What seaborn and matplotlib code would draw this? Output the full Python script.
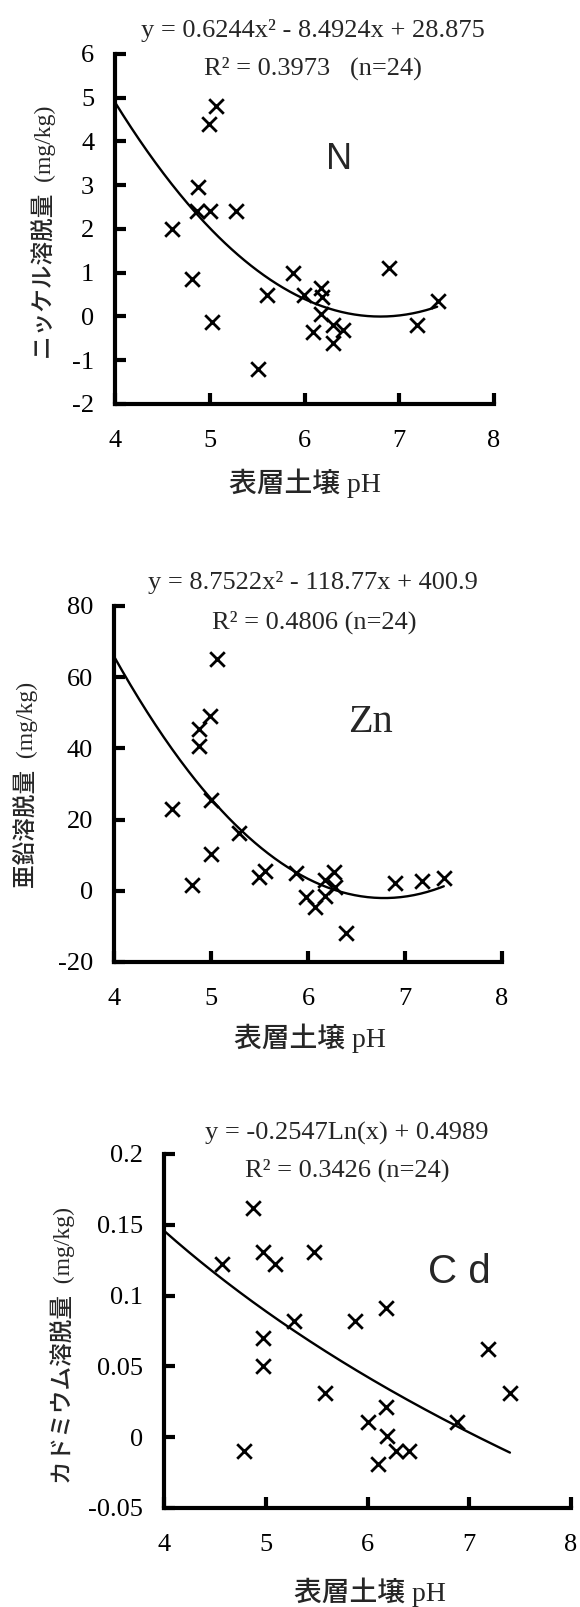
import numpy as np
import pandas as pd
import matplotlib
matplotlib.use('Agg')
import matplotlib.pyplot as plt
import seaborn as sns

# ---------------- data ----------------
ni_ph = [4.60, 4.81, 4.88, 4.87, 4.99, 5.07, 5.00, 5.02, 5.28, 5.51, 5.60, 5.88,
         5.99, 6.09, 6.17, 6.18, 6.17, 6.30, 6.30, 6.41, 6.89, 7.19, 7.41]
ni_val = [2.0, 0.85, 2.95, 2.4, 4.4, 4.8, 2.4, -0.12, 2.4, -1.2, 0.5, 1.0,
          0.5, -0.35, 0.65, 0.45, 0.05, -0.2, -0.6, -0.3, 1.1, -0.2, 0.35]
ni_coef = [0.6244, -8.4924, 28.875]

zn_ph = [4.60, 4.80, 4.88, 4.88, 4.99, 5.06, 5.00, 5.00, 5.29, 5.49, 5.56, 5.88,
         5.98, 6.07, 6.18, 6.18, 6.27, 6.28, 6.39, 6.90, 7.18, 7.40]
zn_val = [23.0, 1.5, 45.4, 40.6, 49.0, 65.0, 25.5, 10.2, 16.1, 4.0, 5.7, 5.0,
          -1.7, -4.5, 3.0, -1.4, 5.4, 1.0, -11.8, 2.1, 2.8, 3.6]
zn_coef = [8.7522, -118.77, 400.9]

cd_ph = [4.57, 4.79, 4.87, 4.97, 5.09, 4.97, 4.97, 5.28, 5.47, 5.58, 5.88, 6.00,
         6.10, 6.18, 6.18, 6.19, 6.28, 6.41, 6.88, 7.18, 7.40]
cd_val = [0.122, -0.010, 0.162, 0.131, 0.122, 0.070, 0.050, 0.082, 0.131, 0.031, 0.082, 0.011,
          -0.019, 0.091, 0.021, 0.001, -0.010, -0.010, 0.011, 0.062, 0.031]
cd_coef = [-0.2547, 0.4989]

x_ticks = [4, 5, 6, 7, 8]
x_ticklabels = ['4', '5', '6', '7', '8']
ni_yticks = [-2, -1, 0, 1, 2, 3, 4, 5, 6]
ni_yticklabels = ['-2', '-1', '0', '1', '2', '3', '4', '5', '6']
zn_yticks = [-20, 0, 20, 40, 60, 80]
zn_yticklabels = ['-20', '0', '20', '40', '60', '80']
cd_yticks = [-0.05, 0, 0.05, 0.1, 0.15, 0.2]
cd_yticklabels = ['-0.05', '0', '0.05', '0.1', '0.15', '0.2']

ni_eq = ['y = 0.6244x² - 8.4924x + 28.875', 'R² = 0.3973   (n=24)']
zn_eq = ['y = 8.7522x² - 118.77x + 400.9', 'R² = 0.4806 (n=24)']
cd_eq = ['y = -0.2547Ln(x) + 0.4989', 'R² = 0.3426 (n=24)']

ni_ylabel = 'ニッケル溶脱量  (mg/kg)'
zn_ylabel = '亜鉛溶脱量  (mg/kg)'
cd_ylabel = 'カドミウム溶脱量  (mg/kg)'
xlabel = '表層土壌 pH'

# ---------------- style ----------------
sns.set_style('white')
plt.rcParams['font.family'] = ['Liberation Serif', 'Noto Sans CJK JP', 'DejaVu Sans']
JP = ['Liberation Serif', 'Noto Sans CJK JP']

W, H = 580, 1607
fig = plt.figure(figsize=(W / 100, H / 100), dpi=100)
fig.patch.set_facecolor('white')

EQ = dict(fontsize=19, family=['Liberation Serif', 'DejaVu Serif'], ha='center', va='center')
YL = dict(rotation=90, fontsize=17, family=JP, fontweight='medium', ha='center', va='center')
XL = dict(fontsize=20, family=JP, fontweight='medium', ha='center', va='center')


def make_axes(left, right, top, bottom):
    return fig.add_axes([left / W, 1 - bottom / H, (right - left) / W, (bottom - top) / H])


def style_axes(ax, xlim, ylim, yticks, yticklabels):
    ax.set_xlim(*xlim)
    ax.set_ylim(*ylim)
    ax.set_xticks(x_ticks)
    ax.set_xticklabels(x_ticklabels)
    ax.set_yticks(yticks)
    ax.set_yticklabels(yticklabels)
    for s in ['top', 'right']:
        ax.spines[s].set_visible(False)
    for s in ['left', 'bottom']:
        ax.spines[s].set_visible(True)
        ax.spines[s].set_linewidth(3.0)
        ax.spines[s].set_color('black')
        ax.spines[s].set_capstyle('projecting')
    ax.tick_params(axis='x', direction='in', length=8, width=3, pad=19,
                   labelsize=19, colors='black', bottom=True)
    ax.tick_params(axis='y', direction='in', length=8, width=3, pad=15,
                   labelsize=19, colors='black', left=True)
    ax.set_xlabel('')
    ax.set_ylabel('')
    ax.grid(False)
    ax.set_facecolor('white')


def draw(ax, xs, ys, cx, cy):
    sns.lineplot(x=cx, y=cy, ax=ax, color='black', linewidth=1.7, sort=False)
    sns.scatterplot(x=xs, y=ys, ax=ax, marker='x', s=110, color='black',
                    linewidth=2.0, zorder=5, clip_on=False)


curve_x = np.linspace(4, 7.4, 200)

# Panel 1: Ni
ax1 = make_axes(115, 494, 54, 404)
draw(ax1, ni_ph, ni_val, curve_x, np.polyval(ni_coef, curve_x))
style_axes(ax1, (4, 8), (-2, 6), ni_yticks, ni_yticklabels)
ax1.text(6.36, 3.58, 'N', fontsize=26, family='Liberation Sans', ha='center', va='center')
fig.text(313 / W, 1 - 31 / H, ni_eq[0], **EQ)
fig.text(313 / W, 1 - 68 / H, ni_eq[1], **EQ)
fig.text(44 / W, 1 - 232 / H, ni_ylabel, **YL)
fig.text(305 / W, 1 - 483 / H, xlabel, **XL)

# Panel 2: Zn
ax2 = make_axes(114, 502, 606, 962)
draw(ax2, zn_ph, zn_val, curve_x, np.polyval(zn_coef, curve_x))
style_axes(ax2, (4, 8), (-20, 80), zn_yticks, zn_yticklabels)
ax2.text(6.64, 47.3, 'Zn', fontsize=29, family='Liberation Serif', ha='center', va='center')
fig.text(313 / W, 1 - 583 / H, zn_eq[0], **EQ)
fig.text(314 / W, 1 - 622 / H, zn_eq[1], **EQ)
fig.text(26 / W, 1 - 785 / H, zn_ylabel, **YL)
fig.text(310 / W, 1 - 1038 / H, xlabel, **XL)

# Panel 3: Cd
ax3 = make_axes(164, 571, 1154, 1508)
draw(ax3, cd_ph, cd_val, curve_x, cd_coef[0] * np.log(curve_x) + cd_coef[1])
style_axes(ax3, (4, 8), (-0.05, 0.2), cd_yticks, cd_yticklabels)
ax3.text(6.9, 0.117, 'C d', fontsize=29, family='Liberation Sans', ha='center', va='center')
fig.text(347 / W, 1 - 1133 / H, cd_eq[0], **EQ)
fig.text(347 / W, 1 - 1170 / H, cd_eq[1], **EQ)
fig.text(63 / W, 1 - 1345 / H, cd_ylabel, **YL)
fig.text(370 / W, 1 - 1592 / H, xlabel, **XL)

fig.savefig('out.png', dpi=100, facecolor='white')
